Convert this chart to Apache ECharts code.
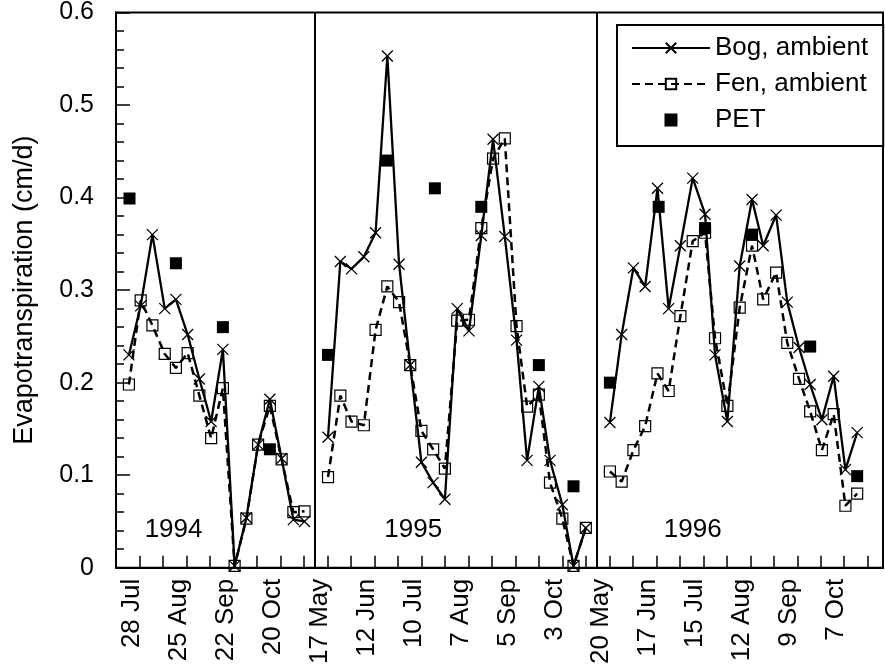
<!DOCTYPE html>
<html>
<head>
<meta charset="utf-8">
<script src="https://cdn.jsdelivr.net/npm/echarts@6/dist/echarts.min.js"></script>
<style>
  html, body { margin: 0; padding: 0; background: #fff; }
  #chart { width: 885px; height: 667px; }
</style>
</head>
<body>
<div id="chart"></div>
<script>
// x is in weeks counted from the "28 Jul" tick; one axis tick = 2 weeks
var tickLabels = ['28 Jul', '25 Aug', '22 Sep', '20 Oct', '17 May', '12 Jun', '10 Jul', '7 Aug',
  '5 Sep', '3 Oct', '20 May', '17 Jun', '15 Jul', '12 Aug', '9 Sep', '7 Oct']

var weeks1994 = [-0.9, 0.1, 1.1, 2.15, 3.1, 4.1, 5.1, 6.1, 7.1, 8.1, 9.1, 10.1, 11.1, 12.1, 13.1, 14.05]
var bog1994 = [0.23, 0.283, 0.36, 0.28, 0.29, 0.252, 0.204, 0.158, 0.236, 0.002, 0.054, 0.133, 0.182, 0.118, 0.052, 0.05]
var fen1994 = [0.198, 0.289, 0.262, 0.231, 0.216, 0.232, 0.186, 0.14, 0.194, 0.002, 0.053, 0.133, 0.175, 0.117, 0.06, 0.061]
var petWeeks1994 = [-0.85, 3.1, 7.1, 11.1]
var pet1994 = [0.399, 0.329, 0.26, 0.128]

var weeks1995 = [16.05, 17.1, 18.05, 19.1, 20.1, 21.1, 22.1, 23.05, 24.0, 25.0, 26.0, 27.05,
  28.05, 29.1, 30.1, 31.1, 32.1, 33.0, 34.0, 34.95, 36.0, 36.95, 38.0]
var bog1995 = [0.141, 0.331, 0.323, 0.336, 0.362, 0.553, 0.328, 0.219, 0.114, 0.092, 0.074, 0.28,
  0.256, 0.359, 0.463, 0.358, 0.246, 0.116, 0.196, 0.116, 0.068, 0.002, 0.043]
var fen1995 = [0.098, 0.186, 0.158, 0.154, 0.257, 0.304, 0.287, 0.219, 0.148, 0.128, 0.107, 0.267,
  0.268, 0.367, 0.442, 0.464, 0.261, 0.174, 0.187, 0.092, 0.053, 0.002, 0.043]
var petWeeks1995 = [16.05, 21.05, 25.15, 29.1, 34.0, 36.95]
var pet1995 = [0.23, 0.44, 0.41, 0.39, 0.219, 0.088]

var weeks1996 = [40.05, 41.05, 42.05, 43.05, 44.1, 45.05, 46.05, 47.1, 48.15, 49.0, 50.05,
  51.1, 52.15, 53.1, 54.2, 55.15, 56.15, 57.1, 58.1, 59.1, 60.1, 61.1]
var bog1996 = [0.157, 0.252, 0.324, 0.304, 0.41, 0.28, 0.348, 0.421, 0.382, 0.23, 0.158,
  0.326, 0.398, 0.348, 0.381, 0.287, 0.238, 0.198, 0.16, 0.207, 0.106, 0.146]
var fen1996 = [0.104, 0.093, 0.127, 0.153, 0.21, 0.191, 0.272, 0.353, 0.362, 0.248, 0.175,
  0.281, 0.348, 0.29, 0.319, 0.243, 0.204, 0.169, 0.127, 0.166, 0.067, 0.08]
var petWeeks1996 = [40.05, 44.2, 48.15, 52.15, 57.1, 61.1]
var pet1996 = [0.2, 0.39, 0.367, 0.36, 0.239, 0.099]

var yearNames = ['1994', '1995', '1996']
var panelBreaks = [14.95, 38.93]

var FONT = '"Liberation Sans", Arial, Helvetica, sans-serif'
var CROSS = 'path://M0,0L10,10M10,0L0,10'
var SQUARE = 'path://M0,0L10,0L10,10L0,10Z'

function pairs(xs, ys) {
  return xs.map(function (x, i) { return [x, ys[i]] })
}

function bogSeries(xs, ys) {
  return {
    name: 'Bog, ambient', type: 'line', data: pairs(xs, ys), z: 4,
    symbol: CROSS, symbolSize: 11, showAllSymbol: true,
    lineStyle: { color: '#000', width: 2.3 },
    itemStyle: { color: 'rgba(0,0,0,0)', borderColor: '#000', borderWidth: 1.3 }
  }
}

function fenSeries(xs, ys) {
  return {
    name: 'Fen, ambient', type: 'line', data: pairs(xs, ys), z: 3,
    symbol: 'rect', symbolSize: 11, showAllSymbol: true,
    lineStyle: { color: '#000', width: 2.5, type: [8, 5] },
    itemStyle: { color: 'rgba(0,0,0,0)', borderColor: '#000', borderWidth: 1.2 }
  }
}

function petSeries(xs, ys) {
  return {
    name: 'PET', type: 'scatter', data: pairs(xs, ys), z: 5,
    symbol: 'rect', symbolSize: 12,
    itemStyle: { color: '#000', opacity: 1 }
  }
}

var series = [
  bogSeries(weeks1994, bog1994), fenSeries(weeks1994, fen1994), petSeries(petWeeks1994, pet1994),
  bogSeries(weeks1995, bog1995), fenSeries(weeks1995, fen1995), petSeries(petWeeks1995, pet1995),
  bogSeries(weeks1996, bog1996), fenSeries(weeks1996, fen1996), petSeries(petWeeks1996, pet1996)
]

// panel separators
series[0].markLine = {
  silent: true, symbol: 'none', animation: false,
  label: { show: false },
  lineStyle: { color: '#000', width: 2, type: 'solid' },
  data: panelBreaks.map(function (x) { return { xAxis: x } })
}

// year captions inside each panel
series.push({
  type: 'scatter', symbolSize: 0, silent: true, z: 6,
  itemStyle: { opacity: 1 },
  label: {
    show: true, position: 'inside', color: '#000', opacity: 1, fontSize: 26, fontFamily: FONT,
    formatter: function (p) { return p.name }
  },
  data: [
    { name: yearNames[0], value: [2.9, 0.041] },
    { name: yearNames[1], value: [23.3, 0.041] },
    { name: yearNames[2], value: [47.1, 0.041] }
  ]
})

var chart = echarts.init(document.getElementById('chart'))
chart.setOption({
  animation: false,
  backgroundColor: '#fff',
  textStyle: { fontFamily: FONT, color: '#000' },
  grid: {
    left: 116, right: 2, top: 12, bottom: 97,
    show: true, borderColor: '#000', borderWidth: 2, backgroundColor: 'transparent'
  },
  legend: {
    data: ['Bog, ambient', 'Fen, ambient', { name: 'PET', icon: SQUARE }],
    orient: 'vertical', left: 617, top: 25,
    padding: [10, 15, 13, 14], itemGap: 10,
    itemWidth: 78, itemHeight: 13,
    backgroundColor: '#fff', borderColor: '#000', borderWidth: 2,
    textStyle: { fontSize: 26, fontFamily: FONT, color: '#000' },
    selectedMode: false
  },
  xAxis: {
    type: 'value', min: -2, max: 63.3, interval: 2,
    axisLine: { onZero: false, lineStyle: { color: '#000', width: 2 } },
    axisTick: { inside: true, length: 12, lineStyle: { color: '#000', width: 1.5 } },
    splitLine: { show: false },
    axisLabel: {
      rotate: 90, margin: 11, fontSize: 26, fontFamily: FONT, color: '#000',
      verticalAlign: 'bottom', lineHeight: 16,
      showMinLabel: false, showMaxLabel: false,
      formatter: function (v) {
        var r = Math.round(v)
        if (Math.abs(v - r) > 1e-6 || r < 0 || r % 4 !== 0) return ''
        return tickLabels[r / 4] || ''
      }
    }
  },
  yAxis: {
    type: 'value', min: 0, max: 0.6, interval: 0.1,
    name: 'Evapotranspiration (cm/d)', nameLocation: 'middle', nameGap: 78,
    nameTextStyle: { fontSize: 27, fontFamily: FONT, color: '#000' },
    axisLine: { show: true, onZero: false, lineStyle: { color: '#000', width: 2 } },
    axisTick: { inside: true, length: 14, lineStyle: { color: '#000', width: 1.5 } },
    minorTick: { show: true, splitNumber: 5, length: 8, lineStyle: { color: '#000', width: 1.5 } },
    splitLine: { show: false },
    axisLabel: { margin: 22, fontSize: 25, fontFamily: FONT, color: '#000' }
  },
  series: series
})
</script>
</body>
</html>
